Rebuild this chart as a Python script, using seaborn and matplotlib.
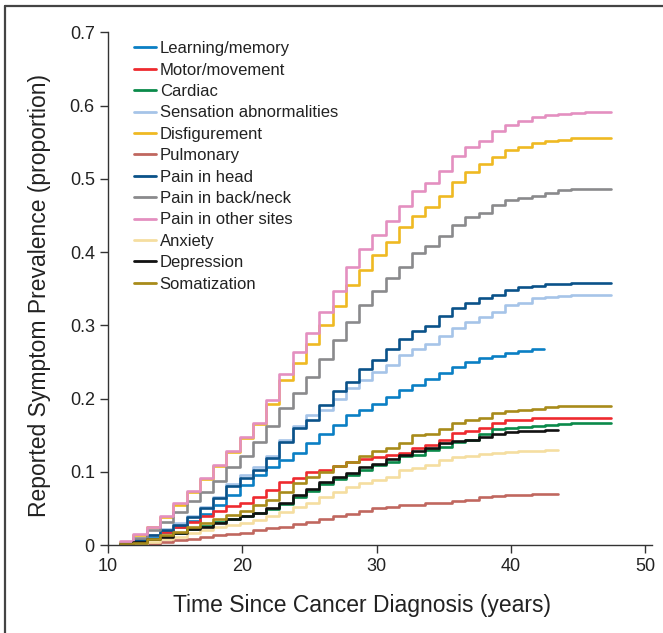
import numpy as np
import pandas as pd
import seaborn as sns
import matplotlib.pyplot as plt
from matplotlib.lines import Line2D

# step times (years since diagnosis), one per yearly interval
step_years = np.linspace(10.9, 46.5, 37)

symptoms = ["Learning/memory", "Motor/movement", "Cardiac", "Sensation abnormalities",
            "Disfigurement", "Pulmonary", "Pain in head", "Pain in back/neck",
            "Pain in other sites", "Anxiety", "Depression", "Somatization"]

colors = ["#0a7fc4", "#ee2a2f", "#0a8a4a", "#a6c4e8", "#efb922", "#c0675f",
          "#0a5289", "#8a8a8c", "#e48fc0", "#f5dea0", "#111111", "#a88b1a"]

learning = [0.002, 0.006, 0.012, 0.018, 0.025, 0.033, 0.043, 0.055, 0.068, 0.082,
            0.095, 0.106, 0.116, 0.126, 0.139, 0.152, 0.164, 0.177, 0.184, 0.193,
            0.202, 0.211, 0.219, 0.227, 0.235, 0.243, 0.250, 0.255, 0.258, 0.262,
            0.265, 0.268]
motor = [0.002, 0.007, 0.013, 0.018, 0.024, 0.031, 0.039, 0.046, 0.053, 0.058,
         0.066, 0.075, 0.086, 0.092, 0.099, 0.102, 0.108, 0.113, 0.117, 0.120,
         0.123, 0.126, 0.133, 0.137, 0.144, 0.153, 0.156, 0.160, 0.166, 0.170,
         0.171, 0.173, 0.173, 0.174, 0.174, 0.174, 0.174]
cardiac = [0.001, 0.004, 0.008, 0.012, 0.017, 0.022, 0.026, 0.031, 0.036, 0.040,
           0.044, 0.049, 0.056, 0.065, 0.074, 0.083, 0.090, 0.096, 0.103, 0.109,
           0.114, 0.121, 0.123, 0.130, 0.134, 0.141, 0.144, 0.152, 0.158, 0.160,
           0.161, 0.163, 0.164, 0.165, 0.166, 0.166, 0.166]
sensation = [0.002, 0.007, 0.013, 0.022, 0.030, 0.040, 0.052, 0.066, 0.083, 0.095,
             0.106, 0.122, 0.143, 0.162, 0.177, 0.185, 0.200, 0.214, 0.225, 0.236,
             0.246, 0.259, 0.268, 0.275, 0.285, 0.296, 0.305, 0.311, 0.318, 0.327,
             0.331, 0.337, 0.338, 0.340, 0.341, 0.341, 0.341]
disfigurement = [0.004, 0.013, 0.024, 0.038, 0.055, 0.072, 0.090, 0.108, 0.127, 0.146,
                 0.165, 0.192, 0.225, 0.248, 0.275, 0.300, 0.326, 0.355, 0.376, 0.396,
                 0.414, 0.434, 0.449, 0.462, 0.477, 0.496, 0.509, 0.520, 0.530, 0.539,
                 0.543, 0.549, 0.551, 0.553, 0.555, 0.556, 0.556]
pulmonary = [0.000, 0.001, 0.002, 0.004, 0.007, 0.008, 0.011, 0.014, 0.015, 0.017,
             0.020, 0.023, 0.025, 0.029, 0.032, 0.035, 0.039, 0.042, 0.046, 0.050,
             0.052, 0.054, 0.055, 0.057, 0.058, 0.060, 0.062, 0.065, 0.067, 0.068,
             0.068, 0.069, 0.070]
pain_head = [0.002, 0.007, 0.013, 0.020, 0.028, 0.038, 0.050, 0.064, 0.080, 0.091,
             0.102, 0.119, 0.140, 0.160, 0.171, 0.191, 0.210, 0.223, 0.240, 0.253,
             0.268, 0.281, 0.292, 0.299, 0.313, 0.323, 0.331, 0.337, 0.342, 0.348,
             0.352, 0.353, 0.356, 0.357, 0.358, 0.358, 0.358]
pain_back = [0.003, 0.010, 0.020, 0.032, 0.045, 0.060, 0.073, 0.088, 0.106, 0.122,
             0.140, 0.162, 0.187, 0.207, 0.230, 0.254, 0.280, 0.305, 0.327, 0.347,
             0.364, 0.379, 0.398, 0.408, 0.422, 0.437, 0.448, 0.453, 0.464, 0.471,
             0.474, 0.477, 0.481, 0.484, 0.486, 0.486, 0.486]
pain_other = [0.005, 0.015, 0.025, 0.039, 0.057, 0.074, 0.091, 0.109, 0.129, 0.148,
              0.167, 0.198, 0.233, 0.264, 0.290, 0.318, 0.347, 0.380, 0.404, 0.423,
              0.443, 0.463, 0.483, 0.494, 0.511, 0.531, 0.543, 0.551, 0.565, 0.573,
              0.579, 0.584, 0.587, 0.589, 0.590, 0.591, 0.591]
anxiety = [0.001, 0.002, 0.004, 0.008, 0.011, 0.016, 0.020, 0.024, 0.027, 0.030,
           0.034, 0.040, 0.045, 0.052, 0.058, 0.066, 0.073, 0.079, 0.085, 0.089,
           0.093, 0.102, 0.105, 0.109, 0.116, 0.120, 0.121, 0.124, 0.126, 0.127,
           0.128, 0.129, 0.130]
depression = [0.001, 0.004, 0.008, 0.011, 0.016, 0.022, 0.025, 0.030, 0.035, 0.040,
              0.044, 0.050, 0.057, 0.068, 0.077, 0.086, 0.093, 0.098, 0.106, 0.111,
              0.117, 0.123, 0.129, 0.132, 0.139, 0.142, 0.144, 0.148, 0.151, 0.154,
              0.155, 0.156, 0.157]
somatization = [0.001, 0.003, 0.008, 0.014, 0.018, 0.025, 0.030, 0.035, 0.041, 0.046,
                0.055, 0.061, 0.073, 0.084, 0.093, 0.100, 0.108, 0.113, 0.121, 0.129,
                0.132, 0.139, 0.150, 0.152, 0.158, 0.166, 0.171, 0.174, 0.180, 0.183,
                0.185, 0.186, 0.189, 0.190, 0.190, 0.190, 0.190]

series = [learning, motor, cardiac, sensation, disfigurement, pulmonary,
          pain_head, pain_back, pain_other, anxiety, depression, somatization]

# long table; each curve carries on to the end of its last interval
rows = []
for name, vals in zip(symptoms, series):
    t = list(step_years[:len(vals)]) + [step_years[len(vals) - 1] + 0.95]
    v = list(vals) + [vals[-1]]
    for ti, vi in zip(t, v):
        rows.append((name, ti, vi))
df = pd.DataFrame(rows, columns=["symptom", "year", "prev"])

sns.set_style("ticks")
plt.rcParams["font.family"] = ["Liberation Sans", "DejaVu Sans"]

fig = plt.figure(figsize=(6.63, 6.33), dpi=100)
ax = fig.add_axes([0.163, 0.139, 0.820, 0.810])

sns.lineplot(data=df, x="year", y="prev", hue="symptom", hue_order=symptoms,
             palette=colors, drawstyle="steps-post", estimator=None,
             linewidth=1.9, ax=ax)

ax.set_xlim(10, 50.5)
ax.set_ylim(0, 0.7)
ax.set_xticks([10, 20, 30, 40, 50])
ax.set_yticks(np.arange(0, 0.71, 0.1))
ax.set_yticklabels(["0", "0.1", "0.2", "0.3", "0.4", "0.5", "0.6", "0.7"])
ax.tick_params(axis="both", labelsize=13, length=6, width=1, color="#333333",
               labelcolor="#222222", direction="out")
for s in ["top", "right"]:
    ax.spines[s].set_visible(False)
for s in ["left", "bottom"]:
    ax.spines[s].set_color("#333333")
    ax.spines[s].set_linewidth(1)
ax.spines["left"].set_bounds(0, 0.7)

ax.set_xlabel("Time Since Cancer Diagnosis (years)", fontsize=16.5, color="#222222")
ax.set_ylabel("Reported Symptom Prevalence (proportion)", fontsize=16.5, color="#222222")
ax.xaxis.set_label_coords(0.467, -0.095)
ax.yaxis.set_label_coords(-0.105, 0.487)

leg = ax.legend(loc="upper left", bbox_to_anchor=(0.02, 1.012), frameon=False,
                handlelength=1.35, handletextpad=0.2, labelspacing=0.385,
                prop={"size": 12})
for h in leg.get_lines():
    h.set_linewidth(2)
for t in leg.get_texts():
    t.set_color("#222222")

# outer frame: left and top edges only
fig.add_artist(Line2D([0.008, 0.008], [0.0, 0.991], color="#444444", linewidth=1.6))
fig.add_artist(Line2D([0.008, 1.0], [0.991, 0.991], color="#444444", linewidth=1.6))

fig.savefig("out.png", dpi=100, facecolor="white")
